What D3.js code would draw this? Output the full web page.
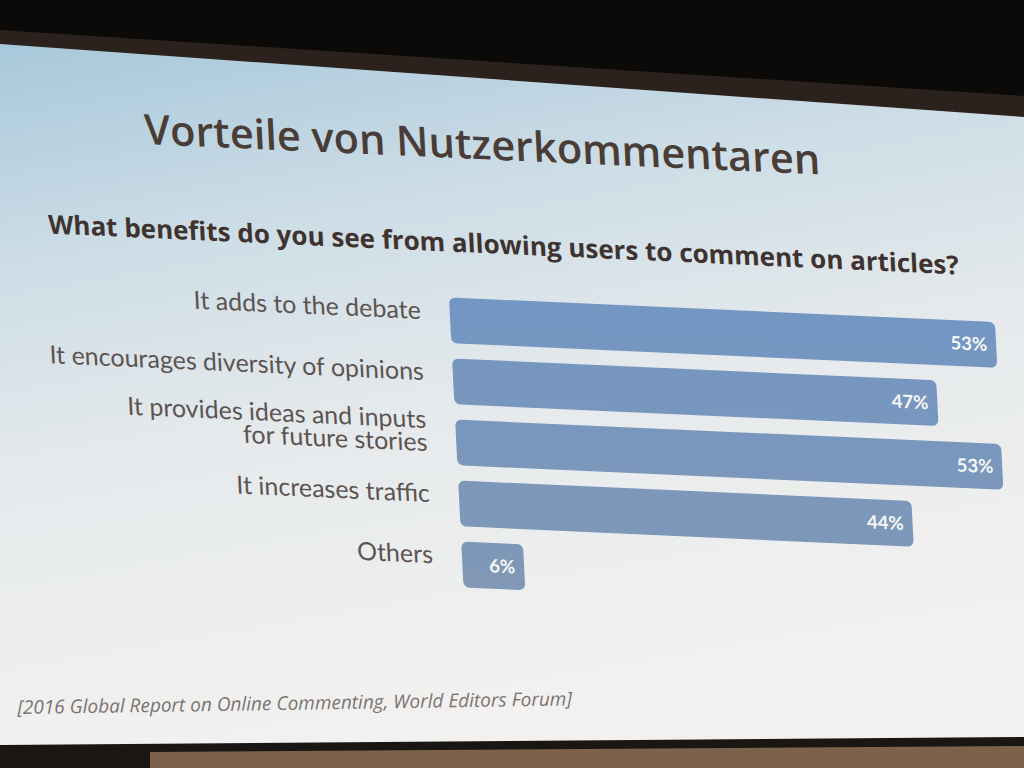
<!DOCTYPE html>
<html>
<head>
<meta charset="utf-8">
<script src="https://cdn.jsdelivr.net/npm/d3@7"></script>
<style>
  body { margin: 0; background: #0c0a09; }
  svg { display: block; }
</style>
</head>
<body>
<div class="vis-container"></div>
<script>
// chart data
var title = "Vorteile von Nutzerkommentaren";
var question = "What benefits do you see from allowing users to comment on articles?";
var source = "[2016 Global Report on Online Commenting, World Editors Forum]";

var categories = [
  "It adds to the debate",
  "It encourages diversity of opinions",
  "It provides ideas and inputs\nfor future stories",
  "It increases traffic",
  "Others"
];
var values = [53, 47, 53, 44, 6];

var width = 1024,
  height = 768;

var svg = d3.select(".vis-container").append("svg")
  .attr("width", width)
  .attr("height", height);

var defs = svg.append("defs");

// slide background, light blue at the top fading to white
var slideGrad = defs.append("linearGradient")
  .attr("id", "slideGrad")
  .attr("x1", 0).attr("y1", 0).attr("x2", 0.25).attr("y2", 1);
[["0%", "#a7c8db"], ["30%", "#cddde6"], ["60%", "#e6eaec"], ["100%", "#f2f1ef"]]
  .forEach(function(s) {
    slideGrad.append("stop").attr("offset", s[0]).attr("stop-color", s[1]);
  });

var barGrad = defs.append("linearGradient")
  .attr("id", "barGrad")
  .attr("gradientUnits", "userSpaceOnUse")
  .attr("x1", 0).attr("y1", 300).attr("x2", 0).attr("y2", 590);
barGrad.append("stop").attr("offset", "0%").attr("stop-color", "#7396c3");
barGrad.append("stop").attr("offset", "100%").attr("stop-color", "#8198b6");

// room around the screen
svg.append("polygon")
  .attr("points", "0,30 1024,96 1024,118 0,45")
  .attr("fill", "#2b221d");
svg.append("polygon")
  .attr("points", "0,744 1024,736 1024,768 0,768")
  .attr("fill", "#1a1613");
svg.append("polygon")
  .attr("points", "150,752 1024,746 1024,768 150,768")
  .attr("fill", "#7c624a");

// the slide itself
svg.append("polygon")
  .attr("points", "0,44 1024,117 1024,737 0,745")
  .attr("fill", "url(#slideGrad)");

// photo is taken at an angle, so the slide content is sheared a little
var slide = svg.append("g")
  .attr("transform", "translate(512,400) matrix(1,0.045,0.05,1,0,0) translate(-512,-400)");

slide.append("text")
  .attr("x", 157)
  .attr("y", 160)
  .attr("font-family", "'Open Sans', sans-serif")
  .attr("font-weight", 600)
  .attr("font-size", 41.5)
  .attr("fill", "#4a3d37")
  .text(title);

slide.append("text")
  .attr("x", 56)
  .attr("y", 254)
  .attr("font-family", "'Open Sans', sans-serif")
  .attr("font-weight", 700)
  .attr("font-size", 26)
  .attr("fill", "#3f3330")
  .text(question);

var barLeft = 454;

var x = d3.scaleLinear()
  .domain([0, 53])
  .range([0, 546]);

var y = d3.scaleBand()
  .domain(categories)
  .range([300, 590])
  .paddingInner(0.25);

var rows = slide.selectAll(".row")
  .data(categories)
  .enter().append("g")
  .attr("class", "row");

rows.append("rect")
  .attr("x", barLeft)
  .attr("y", function(d) { return y(d); })
  .attr("width", function(d, i) { return x(values[i]); })
  .attr("height", y.bandwidth())
  .attr("rx", 6)
  .attr("fill", "url(#barGrad)");

rows.append("text")
  .attr("x", function(d, i) { return barLeft + x(values[i]) - 9; })
  .attr("y", function(d) { return y(d) + y.bandwidth() / 2 + 6.5; })
  .attr("text-anchor", "end")
  .attr("font-family", "Lato, sans-serif")
  .attr("font-weight", 700)
  .attr("font-size", 18.5)
  .attr("fill", "#f7f7f7")
  .text(function(d, i) { return values[i] + "%"; });

// category labels, right aligned left of the bars
var labels = rows.append("text")
  .attr("text-anchor", "end")
  .attr("font-family", "Lato, sans-serif")
  .attr("font-size", 25)
  .attr("fill", "#5d5452");

labels.each(function(d) {
  var lines = d.split("\n");
  var mid = y(d) + y.bandwidth() / 2;
  var first = lines.length > 1 ? mid - 13 : mid;
  d3.select(this).selectAll("tspan")
    .data(lines)
    .enter().append("tspan")
    .attr("x", barLeft - 29)
    .attr("y", function(l, j) { return first + j * 23; })
    .text(function(l) { return l; });
});

// source line at the bottom
svg.append("text")
  .attr("x", 572)
  .attr("y", 710)
  .attr("text-anchor", "end")
  .attr("transform", "rotate(-0.9,280,710)")
  .attr("font-family", "'Open Sans', sans-serif")
  .attr("font-style", "italic")
  .attr("font-size", 19)
  .attr("fill", "#7b7472")
  .text(source);
</script>
</body>
</html>
